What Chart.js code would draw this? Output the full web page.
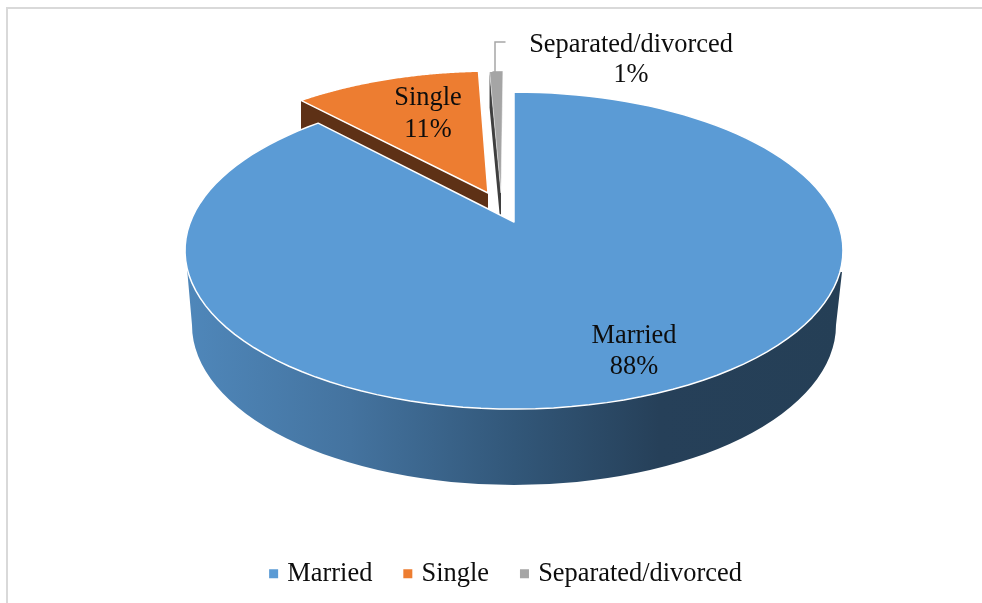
<!DOCTYPE html>
<html>
<head>
<meta charset="utf-8">
<title>Marital status</title>
<script src="https://cdn.jsdelivr.net/npm/chart.js@4/dist/chart.umd.min.js"></script>
<style>
html, body { margin: 0; padding: 0; background: #fff; }
#wrap { width: 982px; height: 603px; }
</style>
</head>
<body>
<div id="wrap"><canvas id="myChart" width="982" height="603"></canvas></div>
<script>
var categories = ["Married", "Single", "Separated/divorced"];
var values = [88, 11.2, 0.8];
var colors = ["#5b9bd5", "#ed7d31", "#a5a5a5"];
var sideColors = [null, "#5e3116", "#3f3f3f"];

var serif = "'Liberation Serif', 'Times New Roman', serif";

// the pie lies on a tilted plane, so the centre is not the middle of the ellipse
var apexX = 514, apexY = 222, squash = 0.474, tilt = 0.18;
// explode of each slice on the plane, in radii
var explode = [[0, 0], [-0.0832, 0.1957], [-0.0416, 0.196]];
// label centre x and the y of its two lines
var labelPos = [[634, 336, 367], [428, 98, 130], [631, 45, 75]];
var sideDepth = [0, 30, 36];

function project(u, v, r) {
    var w = 1 + tilt * v;
    return { x: apexX + r * u / w, y: apexY - r * squash * v / w };
}

function sliceOutline(arc, i) {
    var pts = [];
    var a0 = arc.startAngle + Math.PI / 2, a1 = arc.endAngle + Math.PI / 2;
    var n = 120, r = arc.outerRadius, e = explode[i];
    pts.push(project(e[0], e[1], r));
    for (var k = 0; k <= n; k++) {
        var a = a0 + (a1 - a0) * k / n;
        pts.push(project(Math.sin(a) + e[0], Math.cos(a) + e[1], r));
    }
    return pts;
}

function tracePts(ctx, pts) {
    ctx.beginPath();
    pts.forEach(function (p, k) {
        if (k == 0) ctx.moveTo(p.x, p.y);
        else ctx.lineTo(p.x, p.y);
    });
    ctx.closePath();
}

function drawSide(ctx, pts, color, depth) {
    // only the first straight edge shows, the big slice hides the rest
    var a = pts[0], b = pts[1];
    ctx.beginPath();
    ctx.moveTo(a.x, a.y);
    ctx.lineTo(b.x, b.y);
    ctx.lineTo(b.x, b.y + depth);
    ctx.lineTo(a.x, a.y + depth);
    ctx.closePath();
    ctx.fillStyle = color;
    ctx.fill();
}

function drawRim(ctx) {
    var g = ctx.createLinearGradient(186, 0, 843, 0);
    g.addColorStop(0, "#4f87ba");
    g.addColorStop(0.25, "#44739f");
    g.addColorStop(0.5, "#325779");
    g.addColorStop(0.72, "#264059");
    g.addColorStop(1, "#253f56");
    ctx.beginPath();
    ctx.moveTo(187, 268);
    ctx.lineTo(192, 325);
    ctx.ellipse(514, 325, 322, 160, 0, Math.PI, 0, true);
    ctx.lineTo(842, 272);
    ctx.closePath();
    ctx.fillStyle = g;
    ctx.fill();
}

var pie3d = {
    id: "pie3d",
    beforeDraw: function (chart) {
        var ctx = chart.ctx;
        ctx.save();
        ctx.fillStyle = "#d9d9d9";
        ctx.fillRect(6, 7, 976, 2);
        ctx.fillRect(6, 7, 2, 596);
        ctx.restore();
    },
    // replaces the flat arc drawing, angles and radius still come from the controller
    beforeDatasetDraw: function (chart, args) {
        var ctx = chart.ctx;
        var arcs = chart.getDatasetMeta(args.index).data;
        var outlines = arcs.map(sliceOutline);
        ctx.save();
        ctx.lineJoin = "round";
        [1, 2, 0].forEach(function (i) {
            if (i == 0) drawRim(ctx);
            else drawSide(ctx, outlines[i], sideColors[i], sideDepth[i]);
            tracePts(ctx, outlines[i]);
            ctx.fillStyle = colors[i];
            ctx.fill();
            ctx.strokeStyle = "#ffffff";
            ctx.lineWidth = i == 2 ? 0.5 : 1.5;
            ctx.stroke();
        });
        ctx.restore();
        return false;
    },
    afterDatasetsDraw: function (chart) {
        var ctx = chart.ctx;
        ctx.save();
        // leader of the small slice
        ctx.strokeStyle = "#a6a6a6";
        ctx.lineWidth = 1.5;
        ctx.beginPath();
        ctx.moveTo(495, 72);
        ctx.lineTo(495, 42);
        ctx.lineTo(505.5, 42);
        ctx.stroke();
        ctx.fillStyle = "#0d0d0d";
        ctx.font = "26.4px " + serif;
        ctx.textAlign = "center";
        ctx.textBaseline = "middle";
        categories.forEach(function (c, i) {
            var p = labelPos[i];
            ctx.fillText(c, p[0], p[1]);
            ctx.fillText(Math.round(values[i]) + "%", p[0], p[2]);
        });
        ctx.restore();
    }
};

new Chart(document.getElementById("myChart").getContext("2d"), {
    type: "pie",
    data: {
        labels: categories,
        datasets: [{
            data: values,
            backgroundColor: colors,
            borderWidth: 0,
        }],
    },
    options: {
        responsive: false,
        animation: false,
        radius: 323.6,
        layout: { padding: { left: 33, bottom: 6 } },
        plugins: {
            tooltip: { enabled: false },
            legend: {
                position: "bottom",
                labels: {
                    usePointStyle: true,
                    pointStyle: "rect",
                    boxWidth: 1,
                    boxHeight: 9,
                    padding: 35,
                    color: "#0d0d0d",
                    font: { family: serif, size: 26.4 },
                },
            },
        },
    },
    plugins: [pie3d],
});
</script>
</body>
</html>
